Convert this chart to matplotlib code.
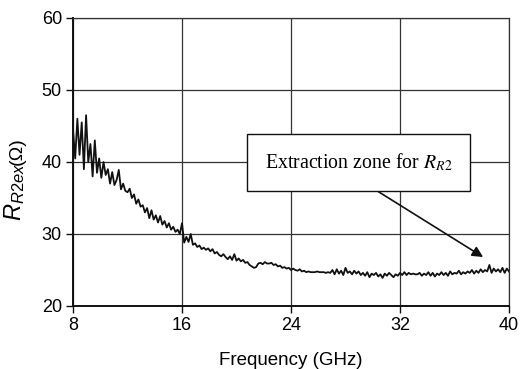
import numpy as np
import matplotlib
matplotlib.use("Agg")
import matplotlib.pyplot as plt

plt.rcParams['font.family'] = ['Liberation Sans', 'DejaVu Sans']
plt.rcParams['mathtext.fontset'] = 'custom'
plt.rcParams['mathtext.rm'] = 'Liberation Sans'
plt.rcParams['mathtext.it'] = 'Liberation Sans:italic'

# Data
freq_start, freq_stop, n_pts = 8.0, 40.0, 201
resistance = [
    44.5, 40.5, 46.0, 41.0, 45.5, 39.0, 46.5, 40.0, 42.5, 38.0,
    43.0, 38.5, 40.5, 37.8, 40.0, 38.2, 39.0, 37.0, 38.6, 36.8,
    37.5, 38.9, 36.2, 37.0, 36.0, 35.8, 36.3, 35.0, 35.5, 34.2,
    34.8, 33.8, 34.0, 33.0, 33.6, 32.2, 33.3, 32.0, 32.6, 31.6,
    32.5, 31.3, 31.8, 30.9, 31.5, 30.6, 31.0, 30.3, 30.6, 30.0,
    31.5, 28.8, 29.6, 28.9, 30.0, 28.5, 28.7, 28.2, 28.4, 27.9,
    28.1, 27.8, 28.0, 27.6, 27.9, 27.3, 27.5, 27.1, 26.9, 27.2,
    26.8, 26.5, 26.9, 26.4, 27.2, 26.3, 26.6, 26.2, 26.4, 26.0,
    26.1, 25.7, 25.5, 25.3, 25.4, 25.9, 26.0, 25.8, 26.1, 25.9,
    25.9, 26.0, 25.7, 25.8, 25.5, 25.6, 25.3, 25.4, 25.2, 25.3,
    25.0, 25.2, 25.0, 24.9, 25.1, 24.8, 24.9, 24.7, 24.8, 24.7,
    24.7, 24.7, 24.8, 24.7, 24.7, 24.7, 24.6, 24.7, 24.6, 25.0,
    24.4, 25.1, 24.5, 24.9, 24.3, 25.3, 24.6, 24.8, 24.4, 24.9,
    24.5, 24.8, 24.3, 24.6, 24.2, 24.7, 24.0, 24.5, 24.3, 24.6,
    24.1, 24.4, 23.9, 24.5, 24.2, 24.6, 24.3, 24.0, 24.4, 24.2,
    24.6, 24.3, 24.7, 24.3, 24.6, 24.4, 24.5, 24.4, 24.4, 24.6,
    24.2, 24.5, 24.3, 24.7, 24.2, 24.6, 24.1, 24.5, 24.3, 24.7,
    24.3, 24.6, 24.2, 24.8, 24.4, 24.6, 24.5, 24.9, 24.4, 24.7,
    24.5, 24.8, 24.6, 25.0, 24.5, 24.9, 24.6, 25.1, 24.7, 25.0,
    24.8, 25.7, 24.6, 25.2, 24.8, 25.1, 24.7, 25.3, 24.6, 25.2, 24.8,
]
freq = np.linspace(freq_start, freq_stop, n_pts)
x_ticks = [8, 16, 24, 32, 40]
y_ticks = [20, 30, 40, 50, 60]
annot_text = 'Extraction zone for $R_{R2}$'
annot_xy = (38.1, 26.8)
annot_text_xy = (28.95, 39.93)

fig = plt.figure(figsize=(5.21, 3.69), dpi=100)
ax = fig.add_axes([73/521, 1-306/369, (509-73)/521, (306-18)/369])

ax.plot(freq, resistance, color='#111111', lw=1.3, zorder=3)

ax.set_xlim(8, 40)
ax.set_ylim(20, 60)
ax.set_xticks(x_ticks)
ax.set_yticks(y_ticks)
ax.grid(True, color='#333333', lw=0.9, zorder=0)
for s in ax.spines.values():
    s.set_color('#333333')
    s.set_linewidth(0.9)
ax.spines['left'].set_color('#111111')
ax.spines['bottom'].set_color('#111111')
ax.spines['left'].set_linewidth(1.4)
ax.spines['bottom'].set_linewidth(1.4)
ax.tick_params(direction='out', length=5, width=1.0, labelsize=13, color='#111111', pad=3)

ax.set_xlabel('Frequency (GHz)', fontsize=13.5, labelpad=13)

fig.text(15/521, 1-221/369, r'$R_{R2ex}$', rotation=90, fontsize=17, ha='center', va='bottom')
fig.text(17/521, 1-165/369, '(Ω)', rotation=90, fontsize=14, ha='center', va='bottom')

ax.annotate(annot_text, xy=annot_xy, xytext=annot_text_xy,
            ha='center', va='center', fontsize=14.3, family='Liberation Serif',
            math_fontfamily='stix',
            bbox=dict(boxstyle='square,pad=0.9', fc='white', ec='#111111', lw=1.0),
            arrowprops=dict(arrowstyle='-|>', color='#111111', lw=1.2,
                            mutation_scale=16, relpos=(0.45, 0.0), shrinkA=0, shrinkB=0),
            zorder=5)

fig.savefig('out.png', dpi=100)
